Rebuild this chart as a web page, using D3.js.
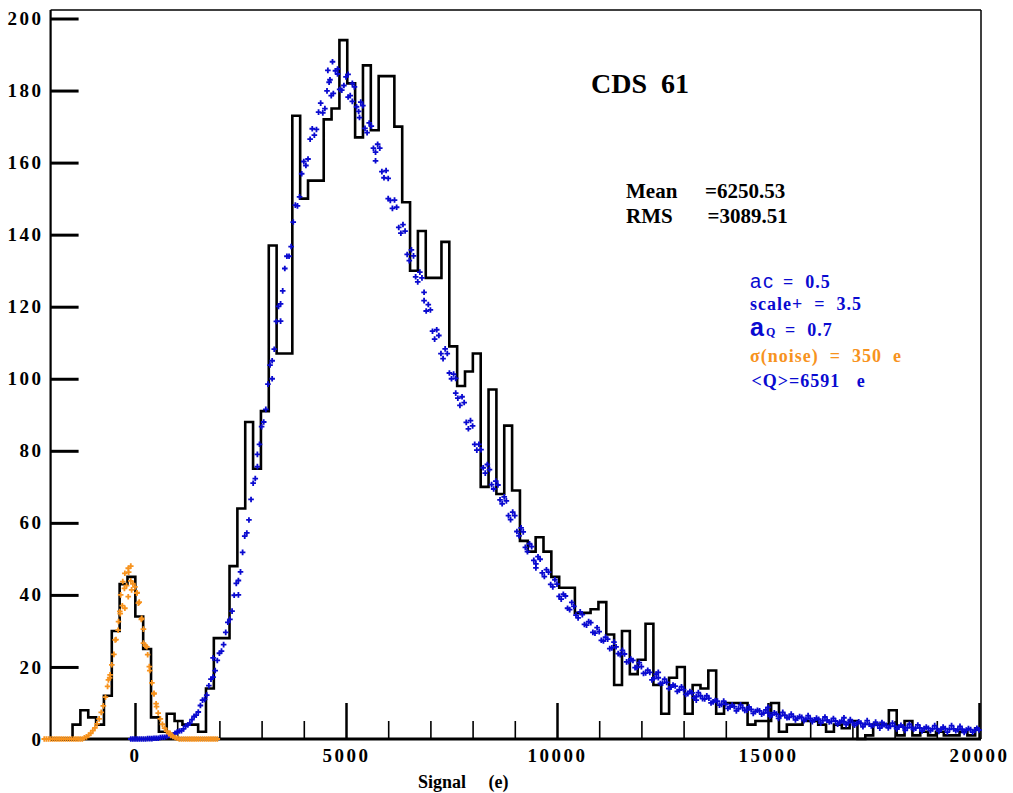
<!DOCTYPE html>
<html>
<head>
<meta charset="utf-8">
<script src="https://cdn.jsdelivr.net/npm/d3@7"></script>
<style>
  body { margin: 0; background: #fff; }
  svg { display: block; }
  text { font-family: "Liberation Serif", "Times New Roman", serif; font-weight: bold; white-space: pre; }
</style>
</head>
<body>
<div id="chart"></div>
<script>
// signal spectrum, CDS 61 : histogram + fitted points

// axes
const xMajor = [0, 5000, 10000, 15000, 20000];
const xMinor = [1000, 2000, 3000, 4000, 6000, 7000, 8000, 9000, 11000, 12000, 13000, 14000, 16000, 17000, 18000, 19000];
const yTicks = [0, 20, 40, 60, 80, 100, 120, 140, 160, 180, 200];

// histogram (bin start, bin width, counts)
const histStart = -1480;
const histWidth = 186;
const histCounts = [
  4, 8, 6, 4, 12, 30, 43, 45, 34, 25,
  6, 2, 7, 5, 4, 4, 2, 14, 28, 28,
  48, 64, 88, 75, 91, 137, 107, 107, 173, 150,
  155, 155, 172, 175, 194, 182, 167, 187, 169, 184,
  184, 170, 149, 130, 141, 128, 128, 138, 109, 98,
  102, 107, 70, 97, 68, 87, 69, 55, 52, 56,
  52, 45, 42, 42, 35, 35, 36, 38, 29, 15,
  30, 18, 22, 32, 15, 7, 17, 20, 7, 15,
  14, 19, 7, 10, 10, 10, 4, 5, 5, 10,
  2, 4, 4, 5, 5, 4, 2, 4, 3, 5,
  0, 1, 4, 4, 8, 1, 5, 1, 2, 1,
  2, 1, 1, 2, 1, 3
];

// blue points (signal fit), sampled every 100 e from -100, and from -50
const blueA = [
  0, 0, 0, 0, 0.1, 0.1, 0.2, 0.4, 0.5, 1.0,
  1.2, 1.9, 2.3, 3.6, 4.4, 6.3, 7.5, 10.8, 12.2, 16.6,
  19.0, 23.8, 26.2, 32.4, 35.5, 43.2, 46.4, 56.3, 60.8, 71.0,
  75.6, 86.7, 91.5, 103.8, 108.2, 120.1, 124.4, 134.0, 136.7, 148.2,
  150.5, 160.3, 161.0, 169.4, 169.2, 176.5, 175.0, 182.3, 179.2, 184.6,
  180.1, 183.8, 178.6, 181.0, 174.2, 175.8, 168.3, 170.1, 162.9, 164.0,
  155.8, 155.6, 147.3, 147.6, 140.4, 141.0, 132.8, 134.1, 126.9, 128.0,
  118.8, 119.1, 111.0, 112.0, 105.6, 107.0, 100.0, 100.1, 92.6, 93.4,
  86.1, 86.9, 80.2, 80.3, 73.8, 74.8, 69.4, 70.5, 65.3, 66.1,
  60.9, 62.0, 56.4, 57.5, 52.0, 53.4, 48.6, 49.9, 45.1, 46.3,
  42.2, 43.0, 38.8, 39.7, 35.9, 36.8, 33.6, 34.5, 31.6, 32.3,
  29.4, 29.8, 27.2, 27.7, 25.3, 25.6, 23.4, 23.6, 21.5, 21.8,
  19.9, 20.1, 18.3, 18.5, 16.8, 17.0, 15.5, 15.7, 14.4, 14.7,
  13.6, 13.7, 12.6, 12.8, 11.8, 12.0, 11.1, 11.3, 10.3, 10.5,
  9.6, 9.7, 8.9, 9.0, 8.4, 8.7, 8.0, 8.2, 7.6, 7.8,
  7.2, 7.3, 6.7, 6.9, 6.4, 6.6, 6.0, 6.3, 5.8, 6.0,
  5.5, 5.7, 5.3, 5.5, 5.1, 5.2, 4.9, 5.0, 4.7, 4.8,
  4.5, 4.6, 4.3, 4.4, 4.1, 4.1, 3.8, 3.9, 3.7, 3.8,
  3.5, 3.6, 3.3, 3.4, 3.1, 3.2, 3.0, 3.1, 2.9, 3.0,
  2.8, 2.9, 2.7, 2.9, 2.7, 2.8, 2.6, 2.7, 2.5, 2.6,
  2.4, 2.5
];
const blueB = [
  0, 0, 0, 0, 0.1, 0.2, 0.2, 0.5, 0.7, 1.0,
  1.6, 2.2, 2.8, 3.9, 5.4, 6.6, 9.3, 11.0, 14.8, 17.2,
  21.8, 24.4, 29.6, 33.2, 39.9, 44.0, 51.8, 57.2, 66.5, 72.3,
  81.8, 88.0, 98.5, 105.0, 115.9, 120.8, 130.6, 134.0, 143.5, 148.0,
  156.9, 159.2, 166.5, 167.6, 174.0, 173.8, 179.9, 178.6, 185.5, 180.3,
  181.4, 178.2, 182.0, 175.5, 176.8, 169.5, 171.0, 164.0, 165.1, 157.5,
  157.8, 149.5, 149.6, 142.0, 142.8, 134.5, 135.8, 128.3, 129.6, 121.7,
  120.6, 113.2, 113.6, 107.0, 108.3, 101.6, 101.3, 94.6, 95.0, 87.9,
  88.4, 81.8, 81.8, 75.3, 76.2, 70.6, 71.6, 66.4, 67.2, 62.0,
  63.0, 57.6, 58.6, 53.2, 54.2, 49.6, 50.6, 46.1, 47.0, 42.9,
  44.2, 39.6, 40.2, 36.3, 37.9, 34.4, 35.3, 31.8, 32.6, 29.6,
  30.9, 27.4, 28.3, 25.1, 26.9, 23.7, 24.6, 21.4, 22.2, 19.8,
  21.2, 18.2, 19.1, 16.4, 18.0, 15.4, 16.6, 14.0, 15.0, 13.2,
  14.5, 12.4, 13.2, 11.4, 12.9, 11.2, 12.0, 10.0, 10.7, 9.4,
  10.5, 8.5, 9.4, 7.8, 9.5, 7.9, 8.9, 7.1, 8.0, 6.9,
  8.1, 6.3, 7.3, 5.7, 7.4, 5.9, 6.9, 5.3, 6.2, 5.1,
  6.5, 4.8, 5.8, 4.4, 6.1, 4.7, 5.7, 4.1, 5.0, 4.0,
  5.4, 3.8, 4.8, 3.4, 5.1, 3.6, 4.7, 3.0, 4.0, 3.1,
  4.4, 2.8, 3.8, 2.4, 4.1, 2.7, 3.9, 2.2, 3.3, 2.3,
  3.7, 2.1, 3.3, 1.9, 3.7, 2.3, 3.5, 1.8, 2.9, 1.9,
  3.0
];
const blueExtraX = [1850, 2450, 2900, 3250, 3450, 4570, 4620, 4680, 4800, 5050, 5150, 5320, 5700, 6000, 6850, 7600, 9500, 12400, 13300, 15000, 16800, 17700];
const blueExtraY = [22.5, 40.0, 79.0, 100.0, 116.0, 185.6, 183.0, 188.0, 186.0, 184.5, 177.0, 172.5, 160.5, 150.0, 124.0, 96.0, 47.5, 18.5, 10.8, 8.8, 5.9, 4.6];

// orange points (noise peak), every 50 e from -2150
const orangeY = [
  0, 0, 0, 0, 0, 0, 0, 0, 0, 0, 0, 0, 0, 0, 0, 0, 0, 0, 0,
  0.3, 0.6, 1.0, 1.6, 2.3, 3.1, 4.2, 5.6, 7.4, 9.2,
  11.6, 14.6, 17.0, 20.6, 23.5, 27.6, 30.2, 34.8, 37.0, 41.8,
  42.6, 46.3, 43.9, 43.1, 42.2, 40.6, 38.0, 33.2, 30.5, 25.8,
  23.4, 19.0, 15.6, 12.5, 9.8, 7.2, 5.6, 4.1, 3.0, 2.2,
  1.5, 1.0, 0.7, 0.4, 0.2,
  0, 0, 0, 0, 0, 0, 0, 0, 0, 0, 0, 0, 0, 0, 0, 0, 0, 0, 0
];
const orangeExtraX = [-630, -590, -470, -390, -360, -340, -290, -240, -240, -160, -160, -100, -80, 40, 80, 160, 200, 280, 340, 450, 510, 830];
const orangeExtraY = [16.4, 17.8, 27.5, 32.6, 35.4, 40.0, 43.7, 46.0, 36.3, 47.4, 39.5, 48.0, 41.4, 40.5, 37.7, 33.5, 26.6, 25.6, 20.1, 12.7, 9.0, 1.6];

const width = 1013;
const height = 793;
const blue = "#0a0ad0";
const orange = "#f7931e";

const svg = d3.select("#chart")
  .append("svg")
  .attr("width", width)
  .attr("height", height);

const x = d3.scaleLinear().domain([-2000, 20000]).range([50.6, 979]);
const y = d3.scaleLinear().domain([0, 200]).range([739, 18.5]);

// y axis, ticks pointing inward
const yAxis = svg.append("g")
  .attr("transform", `translate(${x(-2000)},0)`)
  .call(d3.axisLeft(y).tickValues(yTicks).tickSizeInner(-28).tickSizeOuter(0).tickPadding(7));
yAxis.select(".domain").remove();
yAxis.selectAll(".tick line").attr("stroke", "#000").attr("stroke-width", 3);
yAxis.selectAll(".tick text")
  .attr("font-family", null).attr("font-size", 19)
  .style("letter-spacing", "2.5px").attr("fill", "#000");

// x axis : major and minor ticks
const xAxis = svg.append("g")
  .attr("transform", `translate(0,${y(0)})`)
  .call(d3.axisBottom(x).tickValues(xMajor).tickFormat(d3.format("d"))
    .tickSizeInner(-36).tickSizeOuter(0).tickPadding(10));
xAxis.select(".domain").remove();
xAxis.selectAll(".tick line").attr("stroke", "#000").attr("stroke-width", 2.5);
xAxis.selectAll(".tick text")
  .attr("font-family", null).attr("font-size", 19)
  .style("letter-spacing", "2.5px").attr("fill", "#000");

const xMinorAxis = svg.append("g")
  .attr("transform", `translate(0,${y(0)})`)
  .call(d3.axisBottom(x).tickValues(xMinor).tickSizeInner(-18).tickSizeOuter(0).tickFormat(""));
xMinorAxis.select(".domain").remove();
xMinorAxis.selectAll(".tick line").attr("stroke", "#000").attr("stroke-width", 1.6);

// frame
const frame = svg.append("g").attr("stroke", "#000").attr("fill", "none");
frame.append("line").attr("x1", x(-2000)).attr("x2", 981).attr("y1", 10).attr("y2", 10).attr("stroke-width", 1.5);
frame.append("line").attr("x1", 981).attr("x2", 981).attr("y1", 10).attr("y2", y(0)).attr("stroke-width", 1.5);
frame.append("line").attr("x1", x(-2000)).attr("x2", x(-2000)).attr("y1", 10).attr("y2", y(0) + 1).attr("stroke-width", 2.2);
frame.append("line").attr("x1", x(-2000)).attr("x2", 981).attr("y1", y(0)).attr("y2", y(0)).attr("stroke-width", 3);

// histogram outline
const histPts = [[-2000, 0]];
histCounts.forEach((c, i) => histPts.push([histStart + i * histWidth, c]));
histPts.push([Math.min(20000, histStart + histCounts.length * histWidth), histCounts[histCounts.length - 1]]);

const histLine = d3.line()
  .x(d => x(Math.min(d[0], 20000)))
  .y(d => y(d[1]))
  .curve(d3.curveStepAfter);

svg.append("path")
  .datum(histPts)
  .attr("d", histLine)
  .attr("fill", "none")
  .attr("stroke", "#000")
  .attr("stroke-width", 2.6);

// "+" markers
const cross = "M-2.8,0H2.8M0,-2.8V2.8";
function drawPoints(pts, color) {
  svg.append("g")
    .attr("stroke", color)
    .attr("stroke-width", 1.8)
    .attr("fill", "none")
    .selectAll("path")
    .data(pts)
    .join("path")
    .attr("d", cross)
    .attr("transform", d => `translate(${x(d[0])},${y(d[1])})`);
}

const bluePts = blueA.map((v, i) => [-100 + i * 100, v])
  .concat(blueB.map((v, i) => [-50 + i * 100, v]))
  .concat(blueExtraX.map((v, i) => [v, blueExtraY[i]]));
const orangePts = orangeY.map((v, i) => [-2150 + i * 50, v])
  .concat(orangeExtraX.map((v, i) => [v, orangeExtraY[i]]));

drawPoints(bluePts, blue);
drawPoints(orangePts, orange);

// texts
svg.append("text").attr("x", 591).attr("y", 93).attr("font-size", 28).text("CDS  61");

svg.append("text").attr("x", 626).attr("y", 198).attr("font-size", 21).text("Mean");
svg.append("text").attr("x", 705).attr("y", 198).attr("font-size", 21).text("=6250.53");
svg.append("text").attr("x", 626).attr("y", 222.5).attr("font-size", 21).text("RMS");
svg.append("text").attr("x", 707.5).attr("y", 222.5).attr("font-size", 21).text("=3089.51");

const info = svg.append("g").attr("fill", blue).attr("font-size", 18).style("letter-spacing", "1px");
info.append("text").attr("x", 750).attr("y", 288)
  .style("font-family", "'Liberation Sans', Arial, sans-serif").style("font-weight", "normal")
  .attr("font-size", 20).style("letter-spacing", "2px").text("ac");
info.append("text").attr("x", 783).attr("y", 288).text("=  0.5");
info.append("text").attr("x", 750).attr("y", 310).text("scale+  =  3.5");
info.append("text").attr("x", 750).attr("y", 336)
  .style("font-family", "'Liberation Sans', Arial, sans-serif")
  .attr("font-size", 25).style("letter-spacing", "0px").text("a");
info.append("text").attr("x", 766).attr("y", 336).attr("font-size", 12).text("Q");
info.append("text").attr("x", 785).attr("y", 336).attr("font-size", 18).text("=  0.7");
info.append("text").attr("x", 750).attr("y", 361.5).attr("fill", orange).text("σ(noise)  =  350  e");
info.append("text").attr("x", 751.5).attr("y", 386.5).text("<Q>=6591   e");

svg.append("text").attr("x", 418).attr("y", 788).attr("font-size", 18).text("Signal     (e)");
</script>
</body>
</html>
